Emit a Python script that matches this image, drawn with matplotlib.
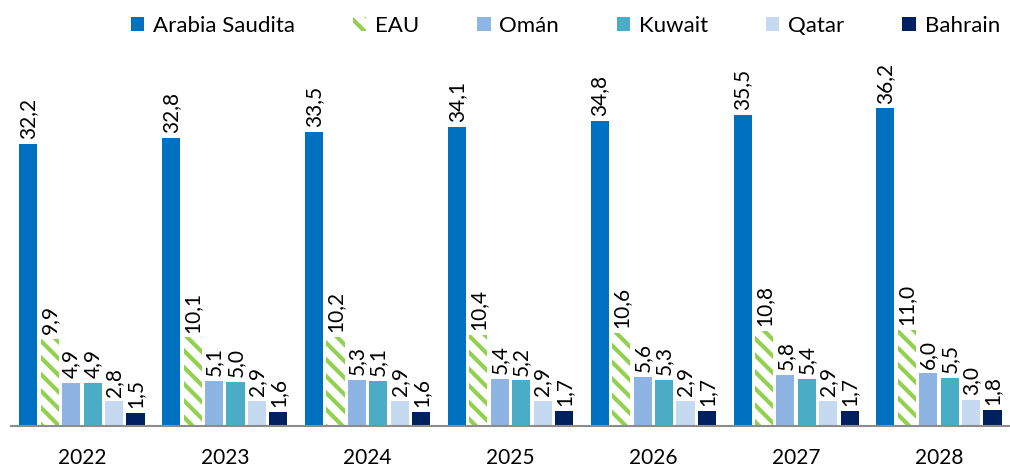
import numpy as np
import matplotlib.pyplot as plt

years = ["2022", "2023", "2024", "2025", "2026", "2027", "2028"]
series_names = ["Arabia Saudita", "EAU", "Omán", "Kuwait", "Qatar", "Bahrain"]
arabia = [32.2, 32.8, 33.5, 34.1, 34.8, 35.5, 36.2]
eau = [9.9, 10.1, 10.2, 10.4, 10.6, 10.8, 11.0]
oman = [4.9, 5.1, 5.3, 5.4, 5.6, 5.8, 6.0]
kuwait = [4.9, 5.0, 5.1, 5.2, 5.3, 5.4, 5.5]
qatar = [2.8, 2.9, 2.9, 2.9, 2.9, 2.9, 3.0]
bahrain = [1.5, 1.6, 1.6, 1.7, 1.7, 1.7, 1.8]

series = [arabia, eau, oman, kuwait, qatar, bahrain]
colors = ["#0070C0", "#92D050", "#8DB4E2", "#4BACC6", "#C5D9F1", "#002060"]

plt.rcParams['font.family'] = ['Lato', 'DejaVu Sans']
plt.rcParams['hatch.linewidth'] = 3.0

fig = plt.figure(figsize=(10.1, 4.76), dpi=100)
ax = fig.add_axes([0.0104, 50 / 476, 0.99, (426 - 40) / 476])

x = np.arange(len(years))
step = 0.15
width = 0.127
for i, (name, vals) in enumerate(zip(series_names, series)):
    pos = x + (i - 2.5) * step
    if name == "EAU":
        bars = ax.bar(pos, vals, width, facecolor="white", edgecolor=colors[i],
                      hatch="\\\\", linewidth=0, label=name)
    else:
        bars = ax.bar(pos, vals, width, color=colors[i], label=name)
    for b, v in zip(bars, vals):
        ax.annotate(f"{v:.1f}".replace(".", ","),
                    (b.get_x() + b.get_width() / 2, v),
                    xytext=(0, 3.5), textcoords="offset points",
                    rotation=90, ha="center", va="bottom", fontsize=15)

ax.set_xlim(-0.5, len(years) - 0.5)
ax.set_ylim(0, 44)
ax.set_xticks(x)
ax.set_xticklabels(years, fontsize=15)
ax.tick_params(axis="x", length=0, pad=16)
ax.set_yticks([])
for s in ["top", "right", "left"]:
    ax.spines[s].set_visible(False)
ax.spines["bottom"].set_color("#8C8C8C")
ax.spines["bottom"].set_linewidth(1.5)

ax.legend(loc="upper center", bbox_to_anchor=(0.555, 1.115), ncol=6, frameon=False,
          fontsize=16, handlelength=0.6, handleheight=0.6, handletextpad=0.4,
          columnspacing=2.6)

fig.savefig("out.png", dpi=100)
